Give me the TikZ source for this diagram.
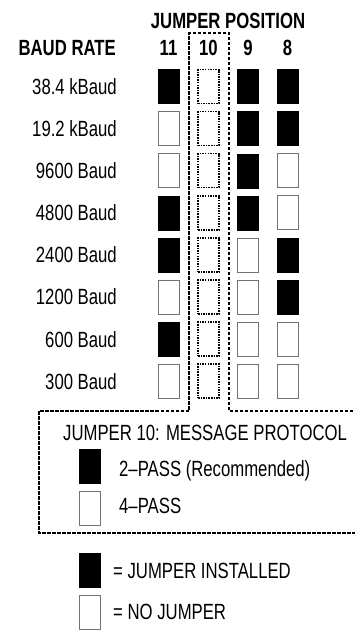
\documentclass[tikz,border=0pt]{standalone}
\usepackage{fontspec}
\setmainfont{Liberation Sans}[FakeStretch=0.76]
\usepackage{tikz}
\usetikzlibrary{positioning}

\begin{document}
\begin{tikzpicture}[x=1pt,y=-1pt,
    on/.style={draw=black,fill=black,inner sep=0pt,minimum width=21pt,minimum height=34pt},
    off/.style={draw=black!55,line width=0.8pt,fill=white,inner sep=0pt,minimum width=21pt,minimum height=34pt},
    dotbox/.style={draw=black,line width=1.5pt,dash pattern=on 1.5pt off 1.1pt,inner sep=0pt,minimum width=21pt,minimum height=34pt},
    txt/.style={font=\fontsize{22}{26}\selectfont,inner sep=0pt,text height=15.8pt,text depth=0pt},
    head/.style={txt,font=\fontsize{22}{26}\selectfont\bfseries}]
    \useasboundingbox (0,0) rectangle (354,630);

    % headings
    \node[head] (jpos) at (228,21) {JUMPER POSITION};
    \node[head,anchor=east] (baud) at (116,48) {BAUD RATE};
    \node[head] (n11) at (168.5,48) {11};
    \node[head] (n10) at (208.5,48) {10};
    \node[head] (n9) at (248,48) {9};
    \node[head] (n8) at (287.5,48) {8};

    % baud rates
    \node[txt,anchor=east] (b1) at (117,86.5) {38.4 kBaud};
    \node[txt,anchor=east] (b2) at (117,128.6) {19.2 kBaud};
    \node[txt,anchor=east] (b3) at (117,170.7) {9600 Baud};
    \node[txt,anchor=east] (b4) at (117,212.8) {4800 Baud};
    \node[txt,anchor=east] (b5) at (117,254.9) {2400 Baud};
    \node[txt,anchor=east] (b6) at (117,297) {1200 Baud};
    \node[txt,anchor=east] (b7) at (117,339.1) {600 Baud};
    \node[txt,anchor=east] (b8) at (117,381.2) {300 Baud};

    % jumper 11
    \node[on] (j11a) at (168.5,86.5) {};
    \node[off] (j11b) at (168.5,128.6) {};
    \node[off] (j11c) at (168.5,170.7) {};
    \node[on] (j11d) at (168.5,212.8) {};
    \node[on] (j11e) at (168.5,254.9) {};
    \node[off] (j11f) at (168.5,297) {};
    \node[on] (j11g) at (168.5,339.1) {};
    \node[off] (j11h) at (168.5,381.2) {};

    % jumper 10
    \node[dotbox] (j10a) at (208.5,86.5) {};
    \node[dotbox] (j10b) at (208.5,128.6) {};
    \node[dotbox] (j10c) at (208.5,170.7) {};
    \node[dotbox] (j10d) at (208.5,212.8) {};
    \node[dotbox] (j10e) at (208.5,254.9) {};
    \node[dotbox] (j10f) at (208.5,297) {};
    \node[dotbox] (j10g) at (208.5,339.1) {};
    \node[dotbox] (j10h) at (208.5,381.2) {};

    % jumper 9
    \node[on] (j9a) at (248,86.5) {};
    \node[on] (j9b) at (248,128.6) {};
    \node[on] (j9c) at (248,170.7) {};
    \node[on] (j9d) at (248,212.8) {};
    \node[off] (j9e) at (248,254.9) {};
    \node[off] (j9f) at (248,297) {};
    \node[off] (j9g) at (248,339.1) {};
    \node[off] (j9h) at (248,381.2) {};

    % jumper 8
    \node[on] (j8a) at (287.5,86.5) {};
    \node[on] (j8b) at (287.5,128.6) {};
    \node[off] (j8c) at (287.5,170.7) {};
    \node[off] (j8d) at (287.5,212.8) {};
    \node[on] (j8e) at (287.5,254.9) {};
    \node[on] (j8f) at (287.5,297) {};
    \node[off] (j8g) at (287.5,339.1) {};
    \node[off] (j8h) at (287.5,381.2) {};

    % dashed outline of jumper 10 and protocol box
    \draw[line width=1.5pt,dash pattern=on 3.5pt off 1.5pt]
        (358,411) -- (229,411) -- (229,33) -- (189,33) -- (189,411)
        -- (39,411) -- (39,533) -- (358,533);

    % protocol
    \node[txt,anchor=west] (proto) at (63,433) {JUMPER 10: MESSAGE PROTOCOL};
    \node[on] (p2) at (89.5,466.5) {};
    \node[off] (p4) at (89.5,508.5) {};
    \node[txt,anchor=west] (p2t) at (119,469) {2–PASS (Recommended)};
    \node[txt,anchor=west] (p4t) at (119,506) {4–PASS};

    % legend
    \node[on] (lon) at (89.5,570.5) {};
    \node[off] (loff) at (89.5,612.5) {};
    \node[txt,anchor=west] (lont) at (113,571) {= JUMPER INSTALLED};
    \node[txt,anchor=west] (lofft) at (113,612) {= NO JUMPER};

\end{tikzpicture}
\end{document}
